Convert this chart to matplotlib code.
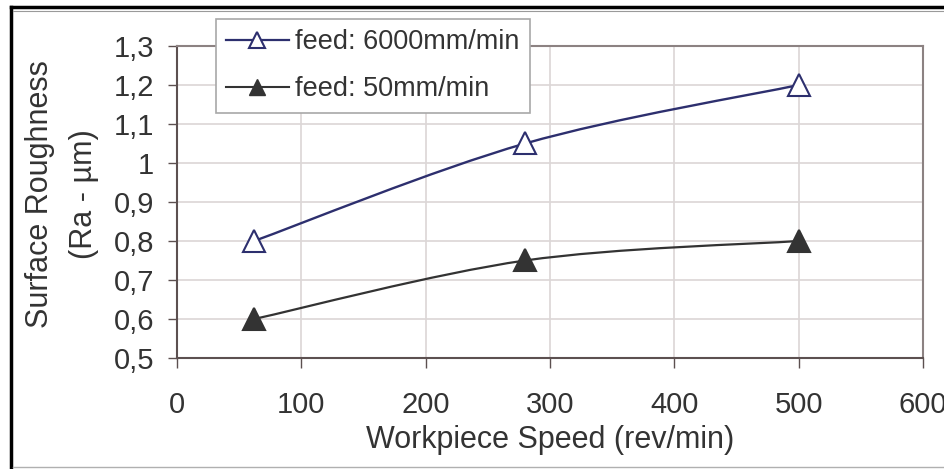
import matplotlib
matplotlib.use('Agg')
import matplotlib.pyplot as plt
from matplotlib.path import Path
from matplotlib.patches import PathPatch
from matplotlib.lines import Line2D

plt.rcParams['font.family'] = ['Liberation Sans', 'DejaVu Sans']

# data
speed = [62, 280, 500]
ra_fast = [0.80, 1.05, 1.20]   # feed 6000 mm/min
ra_slow = [0.60, 0.75, 0.80]   # feed 50 mm/min
labels = ['feed: 6000mm/min', 'feed: 50mm/min']
yticks = [0.5, 0.6, 0.7, 0.8, 0.9, 1.0, 1.1, 1.2, 1.3]
ytick_labels = ['0,5', '0,6', '0,7', '0,8', '0,9', '1', '1,1', '1,2', '1,3']
xticks = [0, 100, 200, 300, 400, 500, 600]

navy = '#2d2f6e'
dark = '#333333'
txt = '#333333'


def smooth_path(xs, ys):
    # Excel style smoothed line: cubic Bezier through the points
    pts = list(zip(xs, ys))
    n = len(pts)
    verts = [pts[0]]
    codes = [Path.MOVETO]
    for i in range(n - 1):
        p0 = pts[i - 1] if i > 0 else pts[i]
        p1 = pts[i]
        p2 = pts[i + 1]
        p3 = pts[i + 2] if i + 2 < n else pts[i + 1]
        c1 = (p1[0] + (p2[0] - p0[0]) / 6, p1[1] + (p2[1] - p0[1]) / 6)
        c2 = (p2[0] - (p3[0] - p1[0]) / 6, p2[1] - (p3[1] - p1[1]) / 6)
        verts += [c1, c2, p2]
        codes += [Path.CURVE4] * 3
    return Path(verts, codes)


fig = plt.figure(figsize=(9.45, 4.69), dpi=100)
ax = fig.add_axes([177 / 945, 1 - 358 / 469, 746 / 945, 312 / 469])
ax.set_xlim(0, 600)
ax.set_ylim(0.5, 1.3)

ax.add_patch(PathPatch(smooth_path(speed, ra_fast), fill=False, edgecolor=navy, lw=1.7, zorder=3))
ax.add_patch(PathPatch(smooth_path(speed, ra_slow), fill=False, edgecolor=dark, lw=1.6, zorder=3))
ax.plot(speed, ra_fast, ls='none', marker='^', ms=15.5, mfc='white', mec=navy, mew=1.5, zorder=4)
ax.plot(speed, ra_slow, ls='none', marker='^', ms=15.5, mfc=dark, mec=dark, mew=1.5, zorder=4)

ax.set_xticks(xticks)
ax.set_yticks(yticks)
ax.set_yticklabels(ytick_labels)
ax.grid(True, color='#dcd6d6', lw=1.2)
ax.set_axisbelow(True)
for s in ['top', 'right']:
    ax.spines[s].set_color('#8c8282')
    ax.spines[s].set_linewidth(1.5)
for s in ['left', 'bottom']:
    ax.spines[s].set_color('#5c5050')
    ax.spines[s].set_linewidth(1.5)
ax.tick_params(axis='y', direction='out', length=6.5, width=1, color='#5c5050',
               labelsize=21, labelcolor=txt, pad=10)
ax.tick_params(axis='x', direction='out', length=7, width=1, color='#5c5050',
               labelsize=21, labelcolor=txt, pad=17)

ax.set_xlabel('Workpiece Speed (rev/min)', fontsize=22, color=txt)
ax.xaxis.set_label_coords(0.5, (358 - 440) / 312)
ax.xaxis.label.set_verticalalignment('center')
ax.set_ylabel('Surface Roughness\n(Ra - µm)', fontsize=22, color=txt, linespacing=1.6)
ax.yaxis.set_label_coords((62 - 177) / 746, (358 - 194) / 312)
ax.yaxis.label.set_verticalalignment('center')
ax.yaxis.label.set_horizontalalignment('center')

handles = [
    Line2D([], [], color=navy, lw=1.6, marker='^', ms=12, mfc='white', mec=navy, mew=1.5),
    Line2D([], [], color=dark, lw=1.5, marker='^', ms=12, mfc=dark, mec=dark),
]
leg = ax.legend(handles, labels, loc='upper left', bbox_to_anchor=(216 / 945, 1 - 19 / 469),
                bbox_transform=fig.transFigure, fontsize=19.5, frameon=True, fancybox=False,
                framealpha=1, edgecolor='#a8a8a8', handlelength=2.3, handletextpad=0.25,
                labelspacing=0.78, borderpad=0.38, borderaxespad=0)
leg.get_frame().set_linewidth(1.2)
for t in leg.get_texts():
    t.set_color(txt)
leg.set_zorder(10)

# outer frame of the picture
fig.add_artist(Line2D([11 / 945, 11 / 945], [0, 1 - 7 / 469], transform=fig.transFigure, color='black', lw=2.5))
fig.add_artist(Line2D([11 / 945, 1], [1 - 7 / 469, 1 - 7 / 469], transform=fig.transFigure, color='black', lw=2.5))
fig.add_artist(Line2D([13 / 945, 1], [1 - 11 / 469, 1 - 11 / 469], transform=fig.transFigure, color='#9a9a9a', lw=0.8))
fig.add_artist(Line2D([13 / 945, 1], [2 / 469, 2 / 469], transform=fig.transFigure, color='#b0b0b0', lw=1))

fig.savefig('out.png', dpi=100)
